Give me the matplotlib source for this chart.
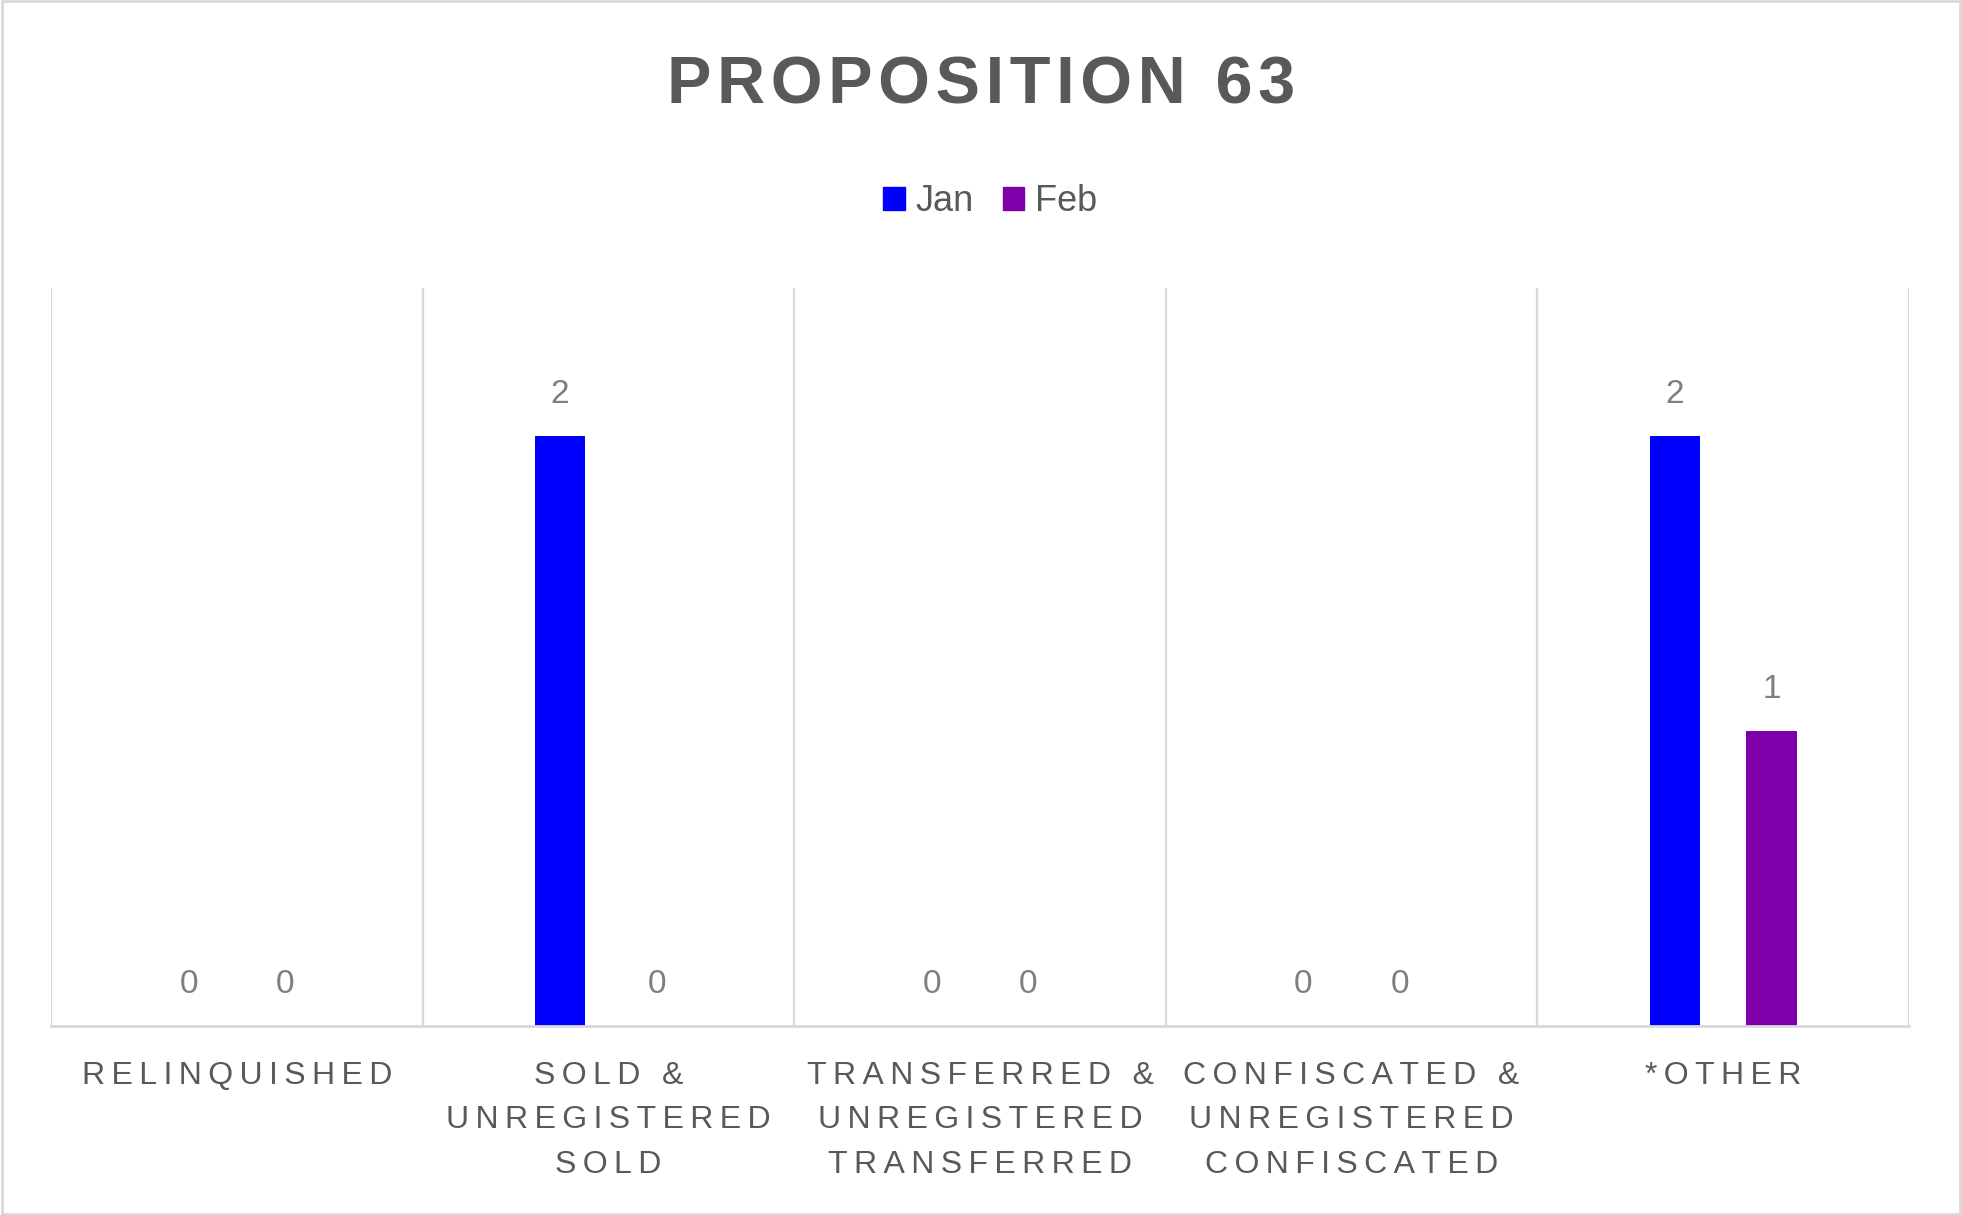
import matplotlib
matplotlib.use("Agg")
import matplotlib.pyplot as plt
import numpy as np
from matplotlib.patches import Patch, Rectangle

# chart data
categories = ["RELINQUISHED",
              "SOLD &\nUNREGISTERED\nSOLD",
              "TRANSFERRED &\nUNREGISTERED\nTRANSFERRED",
              "CONFISCATED &\nUNREGISTERED\nCONFISCATED",
              "*OTHER"]
jan = [0, 2, 0, 0, 2]
feb = [0, 0, 0, 0, 1]
series_names = ["Jan", "Feb"]
title = "PROPOSITION 63"

plt.rcParams['font.family'] = ['Liberation Sans', 'DejaVu Sans']

BLUE = '#0000FF'
PURPLE = '#7F00AA'
GRID = '#D9D9D9'


def spaced(s, sp='\u2009'):
    # fake letter spacing by putting a thin space between characters
    return '\n'.join(sp.join(line) for line in s.split('\n'))


fig = plt.figure(figsize=(19.62, 12.15), dpi=100)
ax = fig.add_axes([0.026, 0.1556, 0.947, 0.6074])

x = np.arange(len(categories))
off = 0.13
w = 0.135
b1 = ax.bar(x - off, jan, w, color=BLUE, label=series_names[0])
b2 = ax.bar(x + off, feb, w, color=PURPLE, label=series_names[1])

for bars in (b1, b2):
    for rect in bars:
        v = rect.get_height()
        ax.annotate(f'{v:g}', (rect.get_x() + rect.get_width() / 2, v),
                    xytext=(0, 29.5), textcoords='offset points',
                    ha='center', va='center', fontsize=24, color='#7F7F7F')

ax.set_xlim(-0.5, len(categories) - 0.5)
ax.set_ylim(0, 2.5)

for s in ['top', 'right', 'left']:
    ax.spines[s].set_visible(False)
ax.spines['bottom'].set_color(GRID)
ax.spines['bottom'].set_linewidth(2)
ax.set_yticks([])

# vertical separators between categories
ax.set_xticks(np.arange(-0.5, len(categories), 1.0), minor=True)
ax.grid(True, which='minor', axis='x', color=GRID, linewidth=1.6)
ax.tick_params(axis='x', which='both', length=0)
ax.set_xticks(x)
ax.set_xticklabels([spaced(c) for c in categories], fontsize=23,
                   color='#595959', linespacing=1.64)
ax.tick_params(axis='x', which='major', pad=25)

fig.text(0.5, 1 - 104 / 1215, spaced(title, '\u200a'), ha='center',
         va='baseline', fontsize=48, fontweight='bold', color='#595959')

handles = [Patch(color=BLUE), Patch(color=PURPLE)]
leg = fig.legend(handles, series_names, loc='center', ncol=2,
                 bbox_to_anchor=(0.5046, 1 - 202 / 1215), frameon=False,
                 fontsize=26, handlelength=0.6, handleheight=0.6,
                 handletextpad=0.3, columnspacing=0.8)
for t in leg.get_texts():
    t.set_color('#595959')

fig.patches.append(Rectangle((0.001, 0.001), 0.998, 0.998,
                             transform=fig.transFigure, fill=False,
                             edgecolor=GRID, linewidth=2))

fig.savefig('out.png', dpi=100, facecolor='white')
